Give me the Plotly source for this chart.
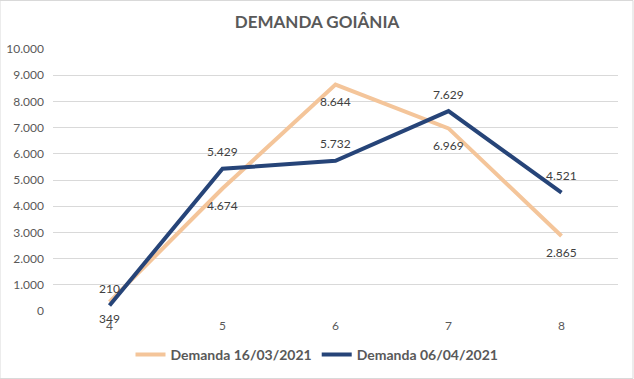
import plotly.graph_objects as go

categories = [4, 5, 6, 7, 8]
serie_1603 = [349, 4674, 8644, 6969, 2865]
serie_0604 = [210, 5429, 5732, 7629, 4521]
y_ticks = [0, 1000, 2000, 3000, 4000, 5000, 6000, 7000, 8000, 9000, 10000]

def fmt(v):
    return f"{v:,}".replace(",", ".")

FONT = "Lato, Liberation Sans, sans-serif"

fig = go.Figure()
fig.add_trace(go.Scatter(x=categories, y=serie_1603, mode="lines", name="<b>Demanda 16/03/2021</b>",
                         line=dict(color="#F4C59A", width=4)))
fig.add_trace(go.Scatter(x=categories, y=serie_0604, mode="lines", name="<b>Demanda 06/04/2021</b>",
                         line=dict(color="#264478", width=4)))

annotations = []
for x, v in zip(categories, serie_1603):
    annotations.append(dict(x=x, y=v, text=fmt(v), showarrow=False, yshift=-17,
                            font=dict(family=FONT, size=12, color="#404040")))
for x, v in zip(categories, serie_0604):
    annotations.append(dict(x=x, y=v, text=fmt(v), showarrow=False, yshift=17,
                            font=dict(family=FONT, size=12, color="#404040")))

fig.update_layout(
    width=634, height=379,
    margin=dict(l=53, r=16, t=49, b=68, autoexpand=False),
    paper_bgcolor="white", plot_bgcolor="white",
    title=dict(text="<b>DEMANDA GOIÂNIA</b>", x=0.5, xref="container", y=1 - 22 / 379, yanchor="middle",
               font=dict(family=FONT, size=17, color="#595959")),
    xaxis=dict(range=[3.5, 8.5], tickvals=categories, ticktext=[str(c) for c in categories],
               showgrid=False, zeroline=False, showline=False, ticks="",
               ticklabelstandoff=6,
               tickfont=dict(family=FONT, size=12, color="#595959")),
    yaxis=dict(range=[0, 10000], tickvals=y_ticks, ticktext=[fmt(t) for t in y_ticks],
               showgrid=True, gridcolor="#D9D9D9", gridwidth=1, zeroline=False, showline=False, ticks="",
               ticklabelstandoff=8,
               tickfont=dict(family=FONT, size=12, color="#595959")),
    legend=dict(orientation="h", xref="container", x=0.5, xanchor="center",
                yref="container", y=1 - 355 / 379, yanchor="middle",
                font=dict(family=FONT, size=14, color="#595959"),
                itemwidth=30, traceorder="normal"),
    annotations=annotations,
)
fig.add_shape(type="rect", xref="x domain", yref="y domain",
              x0=-53 / 565, x1=1 + 15 / 565, y0=-67.5 / 262, y1=1 + 48.5 / 262,
              line=dict(color="#D9D9D9", width=1))
fig.write_html("out.html", config={"displayModeBar": False},
               post_script="document.body.style.margin='0';")
